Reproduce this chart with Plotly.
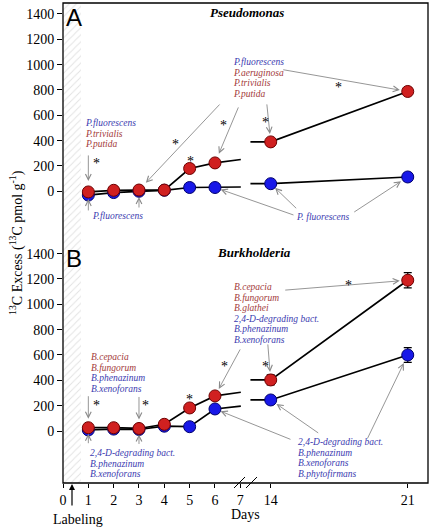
import plotly.graph_objects as go

# ---------------- data ----------------
days_early = [1, 2, 3, 4, 5, 6]
days_late = [14, 21]
tick_days = [0, 1, 2, 3, 4, 5, 6, 7, 14, 21]

# Panel A  (Pseudomonas)
a_red_early = [-5, 8, 10, 10, 180, 224]
a_red_late = [390, 788]
a_red_err = [10, 28]
a_red_stub = 251
a_blue_early = [-30, -10, 0, 8, 30, 30]
a_blue_late = [60, 113]
a_blue_err = [10, 30]
a_blue_stub = 34

# Panel B  (Burkholderia)
b_red_early = [26, 26, 20, 53, 182, 277]
b_red_late = [403, 1190]
b_red_err = [40, 60]
b_red_stub = 306
b_blue_early = [8, 15, 12, 38, 34, 174]
b_blue_late = [245, 600]
b_blue_err = [28, 58]
b_blue_stub = 197

y_ticks = [0, 200, 400, 600, 800, 1000, 1200, 1400]

# ---------------- broken day axis ----------------
BREAK_A = 7.02     # end of stub after day 6
BREAK_B = 7.40     # start of stub before day 14
POS14 = 8.20
POS21 = 13.61


def pos(d):
    if d <= 7:
        return d
    return POS14 + (d - 14) * (POS21 - POS14) / 7.0


# ---------------- styling ----------------
RED = "#d02020"
RED_EDGE = "#6e0000"
BLUE = "#1818e8"
BLUE_EDGE = "#00006e"
TXT_RED = "#a33a3a"
TXT_BLUE = "#3b3bb0"
ARROW = "#8a8a8a"
SERIF = "Liberation Serif, Times New Roman, serif"
SANS = "Liberation Sans, Arial, sans-serif"

W, H = 431, 528
L, R, T, B = 63, 3, 3, 45
PW, PH = W - L - R, H - T - B


def px(x):
    return (x - L) / PW


def py(y):
    return (H - B - y) / PH


split = py(242)

fig = go.Figure()

# hatched labeling zone
fig.add_trace(go.Bar(
    x=[0.355], y=[1], width=[0.71], base=[0], xaxis="x", yaxis="y3",
    marker=dict(color="white", line=dict(width=0),
                pattern=dict(shape="/", fgcolor="#c4c4c4", bgcolor="white",
                             size=5, solidity=0.18)),
    showlegend=False, hoverinfo="skip"))


def add_series(early, late, stub, err, fill, edge, yax):
    xs = [pos(d) for d in days_early] + [BREAK_A, None, BREAK_B] + [pos(d) for d in days_late]
    ys = list(early) + [stub, None, late[0]] + list(late)
    fig.add_trace(go.Scatter(x=xs, y=ys, mode="lines", yaxis=yax,
                             line=dict(color="black", width=1.7),
                             showlegend=False, hoverinfo="skip", connectgaps=False))
    return dict(early=early, late=late, err=err, fill=fill, edge=edge, yax=yax)


series = [
    add_series(a_blue_early, a_blue_late, a_blue_stub, a_blue_err, BLUE, BLUE_EDGE, "y"),
    add_series(a_red_early, a_red_late, a_red_stub, a_red_err, RED, RED_EDGE, "y"),
    add_series(b_blue_early, b_blue_late, b_blue_stub, b_blue_err, BLUE, BLUE_EDGE, "y2"),
    add_series(b_red_early, b_red_late, b_red_stub, b_red_err, RED, RED_EDGE, "y2"),
]

for s in series:
    fig.add_trace(go.Scatter(
        x=[pos(d) for d in days_early], y=s["early"], mode="markers", yaxis=s["yax"],
        marker=dict(size=12, color=s["fill"], line=dict(color=s["edge"], width=1)),
        showlegend=False, hoverinfo="skip"))
    fig.add_trace(go.Scatter(
        x=[pos(d) for d in days_late], y=s["late"], mode="markers", yaxis=s["yax"],
        error_y=dict(type="data", array=s["err"], color="black", thickness=1.2, width=4),
        marker=dict(size=12, color=s["fill"], line=dict(color=s["edge"], width=1)),
        showlegend=False, hoverinfo="skip"))

ann = []


def text_block(x, ys, texts, colors, anchor="left", size=9.5):
    for yy, t, c in zip(ys, texts, colors):
        ann.append(dict(x=px(x), y=py(yy), xref="paper", yref="paper", text=t,
                        showarrow=False, xanchor=anchor, yanchor="middle",
                        font=dict(family=SERIF, size=size, color=c, style="italic")))


def star(x, y):
    ann.append(dict(x=px(x), y=py(y + 3), xref="paper", yref="paper", text="*",
                    showarrow=False, xanchor="center", yanchor="middle",
                    font=dict(family=SERIF, size=14, color="black")))


def arrow(day, val, yref, ax, ay, standoff):
    ann.append(dict(x=pos(day), y=val, xref="x", yref=yref, text="",
                    showarrow=True, ax=ax, ay=ay, arrowhead=5, arrowsize=1.25,
                    arrowwidth=0.9, arrowcolor=ARROW, standoff=standoff))


# ---- Panel A annotations
text_block(83, [123, 134, 144], ["P.fluorescens", "P.trivialis", "P.putida"],
           [TXT_BLUE, TXT_RED, TXT_RED])
text_block(90, [216], ["P.fluorescens"], [TXT_BLUE])
text_block(231, [62, 72.5, 83, 93.5],
           ["P.fluorescens", "P.aeruginosa", "P.trivialis", "P.putida"],
           [TXT_BLUE, TXT_RED, TXT_RED, TXT_RED])
text_block(323, [217], ["P. fluorescens"], [TXT_BLUE], anchor="center")

arrow(1, a_red_early[0], "y", 0, -38, 11)
arrow(1, a_red_early[0], "y", 0, 20, 7)
arrow(3, a_red_early[2], "y", 0, 19, 7)
arrow(3, a_red_early[2], "y", 82, -87, 10)
arrow(6, a_red_early[5], "y", 24, -57, 10)
arrow(14, a_red_late[0], "y", -4, -39, 8)
arrow(21, a_red_late[1], "y", -126, -22, 8)
arrow(6, a_blue_early[5], "y", 80, 28, 6)
arrow(14, a_blue_late[0], "y", 27, 26, 6)
arrow(21, a_blue_late[1], "y", -55, 36, 8)

for sx, sy in [(96, 160), (175, 142), (190, 158), (223, 123), (265, 119), (338, 84)]:
    star(sx, sy)

# ---- Panel B annotations
text_block(89, [357, 367.5, 378, 388.5],
           ["B.cepacia", "B.fungorum", "B.phenazinum", "B.xenoforans"],
           [TXT_RED, TXT_RED, TXT_BLUE, TXT_BLUE])
text_block(88, [453, 463.5, 474],
           ["2,4-D-degrading bact.", "B.phenazinum", "B.xenoforans"],
           [TXT_BLUE] * 3)
text_block(232, [287, 297.5, 308, 318.5, 329, 339.5],
           ["B.cepacia", "B.fungorum", "B.glathei", "2,4-D-degrading bact.",
            "B.phenazinum", "B.xenoforans"],
           [TXT_RED, TXT_RED, TXT_RED, TXT_BLUE, TXT_BLUE, TXT_BLUE])
text_block(296, [442, 452.5, 463, 473.5],
           ["2,4-D-degrading bact.", "B.phenazinum", "B.xenoforans", "B.phytofirmans"],
           [TXT_BLUE] * 4)

arrow(1, b_red_early[0], "y2", 0, -33, 9)
arrow(3, b_red_early[2], "y2", 0, -33, 9)
arrow(1, b_red_early[0], "y2", 0, 17, 6)
arrow(3, b_red_early[2], "y2", 0, 17, 6)
arrow(6, b_red_early[5], "y2", 26, -48, 8)
arrow(14, b_red_late[0], "y2", -3, -37, 8)
arrow(21, b_red_late[1], "y2", -124, 10, 8)
arrow(6, b_blue_early[5], "y2", 77, 31, 6)
arrow(14, b_blue_late[0], "y2", 49, 34, 7)
arrow(21, b_blue_late[1], "y2", -41, 85, 9)

for sx, sy in [(96, 402), (145, 402), (189, 396), (224, 363), (265, 363), (348, 282)]:
    star(sx, sy)

# ---- titles / labels
ann.append(dict(x=px(247), y=py(12), xref="paper", yref="paper", text="<b><i>Pseudomonas</i></b>",
                showarrow=False, xanchor="center", yanchor="middle",
                font=dict(family=SERIF, size=13, color="black")))
ann.append(dict(x=px(254), y=py(253), xref="paper", yref="paper", text="<b><i>Burkholderia</i></b>",
                showarrow=False, xanchor="center", yanchor="middle",
                font=dict(family=SERIF, size=13, color="black")))
ann.append(dict(x=px(64), y=py(17), xref="paper", yref="paper", text="A",
                showarrow=False, xanchor="left", yanchor="middle",
                font=dict(family=SANS, size=24, color="black")))
ann.append(dict(x=px(64), y=py(258), xref="paper", yref="paper", text="B",
                showarrow=False, xanchor="left", yanchor="middle",
                font=dict(family=SANS, size=24, color="black")))
ann.append(dict(x=px(16), y=py(243), xref="paper", yref="paper",
                text="<sup>13</sup>C Excess (<sup>13</sup>C pmol g<sup>-1</sup>)",
                showarrow=False, xanchor="center", yanchor="middle", textangle=-90,
                font=dict(family=SERIF, size=14, color="black")))
ann.append(dict(x=px(245), y=py(514), xref="paper", yref="paper", text="Days",
                showarrow=False, xanchor="center", yanchor="middle",
                font=dict(family=SERIF, size=14, color="black")))
ann.append(dict(x=px(78), y=py(519), xref="paper", yref="paper", text="Labeling",
                showarrow=False, xanchor="center", yanchor="middle",
                font=dict(family=SERIF, size=14, color="black")))
ann.append(dict(x=px(72), y=py(484), xref="paper", yref="paper", text="",
                showarrow=True, ax=0, ay=23, arrowhead=2, arrowsize=1,
                arrowwidth=1.2, arrowcolor="black", standoff=0))

shapes = [
    dict(type="rect", xref="paper", yref="paper", x0=0, x1=1, y0=0, y1=1,
         line=dict(color="black", width=1.3), layer="above"),
    dict(type="line", xref="paper", yref="paper", x0=px(234), y0=py(488), x1=px(245), y1=py(477),
         line=dict(color="black", width=1)),
    dict(type="line", xref="paper", yref="paper", x0=px(246), y0=py(488), x1=px(257), y1=py(477),
         line=dict(color="black", width=1)),
]

# y ranges (equal scale in both panels)
upp = 7.893  # data units per pixel
a_rng = [-(242 - 191.3) * upp, (191.3 - 3) * upp]
b_rng = [-(483 - 431) * upp, (431 - 242) * upp]

tickfont = dict(family=SERIF, size=14, color="black")
fig.update_layout(
    width=W, height=H, autosize=False,
    margin=dict(l=L, r=R, t=T, b=B),
    paper_bgcolor="white", plot_bgcolor="rgba(0,0,0,0)",
    showlegend=False,
    xaxis=dict(range=[0, PW / 25.33], anchor="y2", domain=[0, 1],
               tickvals=[pos(d) for d in tick_days], ticktext=[str(d) for d in tick_days],
               ticks="outside", ticklen=4, tickwidth=1, tickcolor="black",
               showgrid=False, zeroline=False, showline=False, tickfont=tickfont),
    yaxis=dict(domain=[split, 1], range=a_rng, anchor="x", tickvals=y_ticks,
               ticks="outside", ticklen=5, tickwidth=1, tickcolor="black",
               showgrid=False, zeroline=False, showline=False, tickfont=tickfont),
    yaxis2=dict(domain=[0, split], range=b_rng, anchor="x", tickvals=y_ticks,
                ticks="outside", ticklen=5, tickwidth=1, tickcolor="black",
                showgrid=False, zeroline=False, showline=False, tickfont=tickfont),
    yaxis3=dict(domain=[0, 1], range=[0, 1], anchor="x", visible=False),
    annotations=ann, shapes=shapes,
)

fig.write_html("out.html", config={"displayModeBar": False},
               post_script="document.body.style.margin='0';")
